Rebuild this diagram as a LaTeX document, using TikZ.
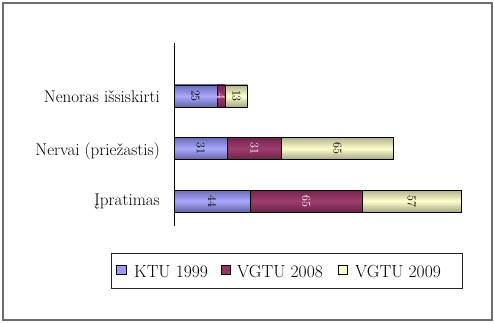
\documentclass[tikz,border=0pt]{standalone}
\usepackage{fontspec}
\usepackage{graphicx}
\definecolor{cA}{HTML}{9999FF}
\definecolor{cB}{HTML}{993366}
\definecolor{cC}{HTML}{FFFFCC}
\definecolor{frameC}{HTML}{6E6E6E}
\tikzset{
  seg/.style={draw=black, line width=0.9pt, inner sep=0pt, outer sep=0pt, minimum height=22pt, anchor=west, font=\fontsize{12}{14}\selectfont},
  segA/.style={seg, top color=cA!70!black, bottom color=cA!65!black, middle color=cA!85!white, text=black},
  segB/.style={seg, top color=cB!75!black, bottom color=cB!70!black, middle color=cB!95!white, text=white},
  segC/.style={seg, top color=cC!70!black, bottom color=cC!65!black, middle color=cC, text=black},
  catlabel/.style={anchor=base east, inner sep=0pt, font=\fontsize{17}{20}\selectfont},
  legtext/.style={anchor=base west, inner sep=0pt, font=\fontsize{17.5}{20}\selectfont},
  legmark/.style={draw=black, line width=0.8pt, minimum size=9.5pt, inner sep=0pt},
}
\begin{document}
\begin{tikzpicture}[x=1pt,y=-1pt]
\useasboundingbox (0,0) rectangle (494,323);
\draw[frameC, line width=1.5pt] (3,3) rectangle (492,320);

% Nenoras issiskirti
\node[segA, minimum width=43.2pt] (n1) at (174,96) {\rotatebox{-90}{25}};
\node[segB, minimum width=6.9pt] (n2) at (n1.east) {\rotatebox{-90}{4}};
\node[segC, minimum width=22.5pt] (n3) at (n2.east) {\rotatebox{-90}{13}};
% Nervai
\node[segA, minimum width=53.6pt] (v1) at (174,148.5) {\rotatebox{-90}{31}};
\node[segB, minimum width=53.6pt] (v2) at (v1.east) {\rotatebox{-90}{31}};
\node[segC, minimum width=112.4pt] (v3) at (v2.east) {\rotatebox{-90}{65}};
% Ipratimas
\node[segA, minimum width=76.1pt] (p1) at (174,201) {\rotatebox{-90}{44}};
\node[segB, minimum width=112.4pt] (p2) at (p1.east) {\rotatebox{-90}{65}};
\node[segC, minimum width=98.5pt] (p3) at (p2.east) {\rotatebox{-90}{57}};

% axis
\coordinate (axtop) at (174,43);
\coordinate (axbot) at (174,226);
\draw[black, line width=1pt] (axtop) -- (axbot);

% category labels
\node[catlabel] (l1) at (160,103) {Nenoras išsiskirti};
\node[catlabel] (l2) at (160,155) {Nervai (priežastis)};
\node[catlabel] (l3) at (160,205) {Įpratimas};

% legend
\node[draw=black!85, line width=0.9pt, minimum width=351pt, minimum height=35pt, inner sep=0pt, anchor=north west] (leg) at (111,253) {};
\node[legmark, fill=cA] (m1) at (121.5,270) {};
\node[legtext] (t1) at (134,277) {KTU 1999};
\node[legmark, fill=cB] (m2) at (226,270) {};
\node[legtext] (t2) at (237,277) {VGTU 2008};
\node[legmark, fill=cC] (m3) at (343,270) {};
\node[legtext] (t3) at (355,277) {VGTU 2009};
\end{tikzpicture}
\end{document}
